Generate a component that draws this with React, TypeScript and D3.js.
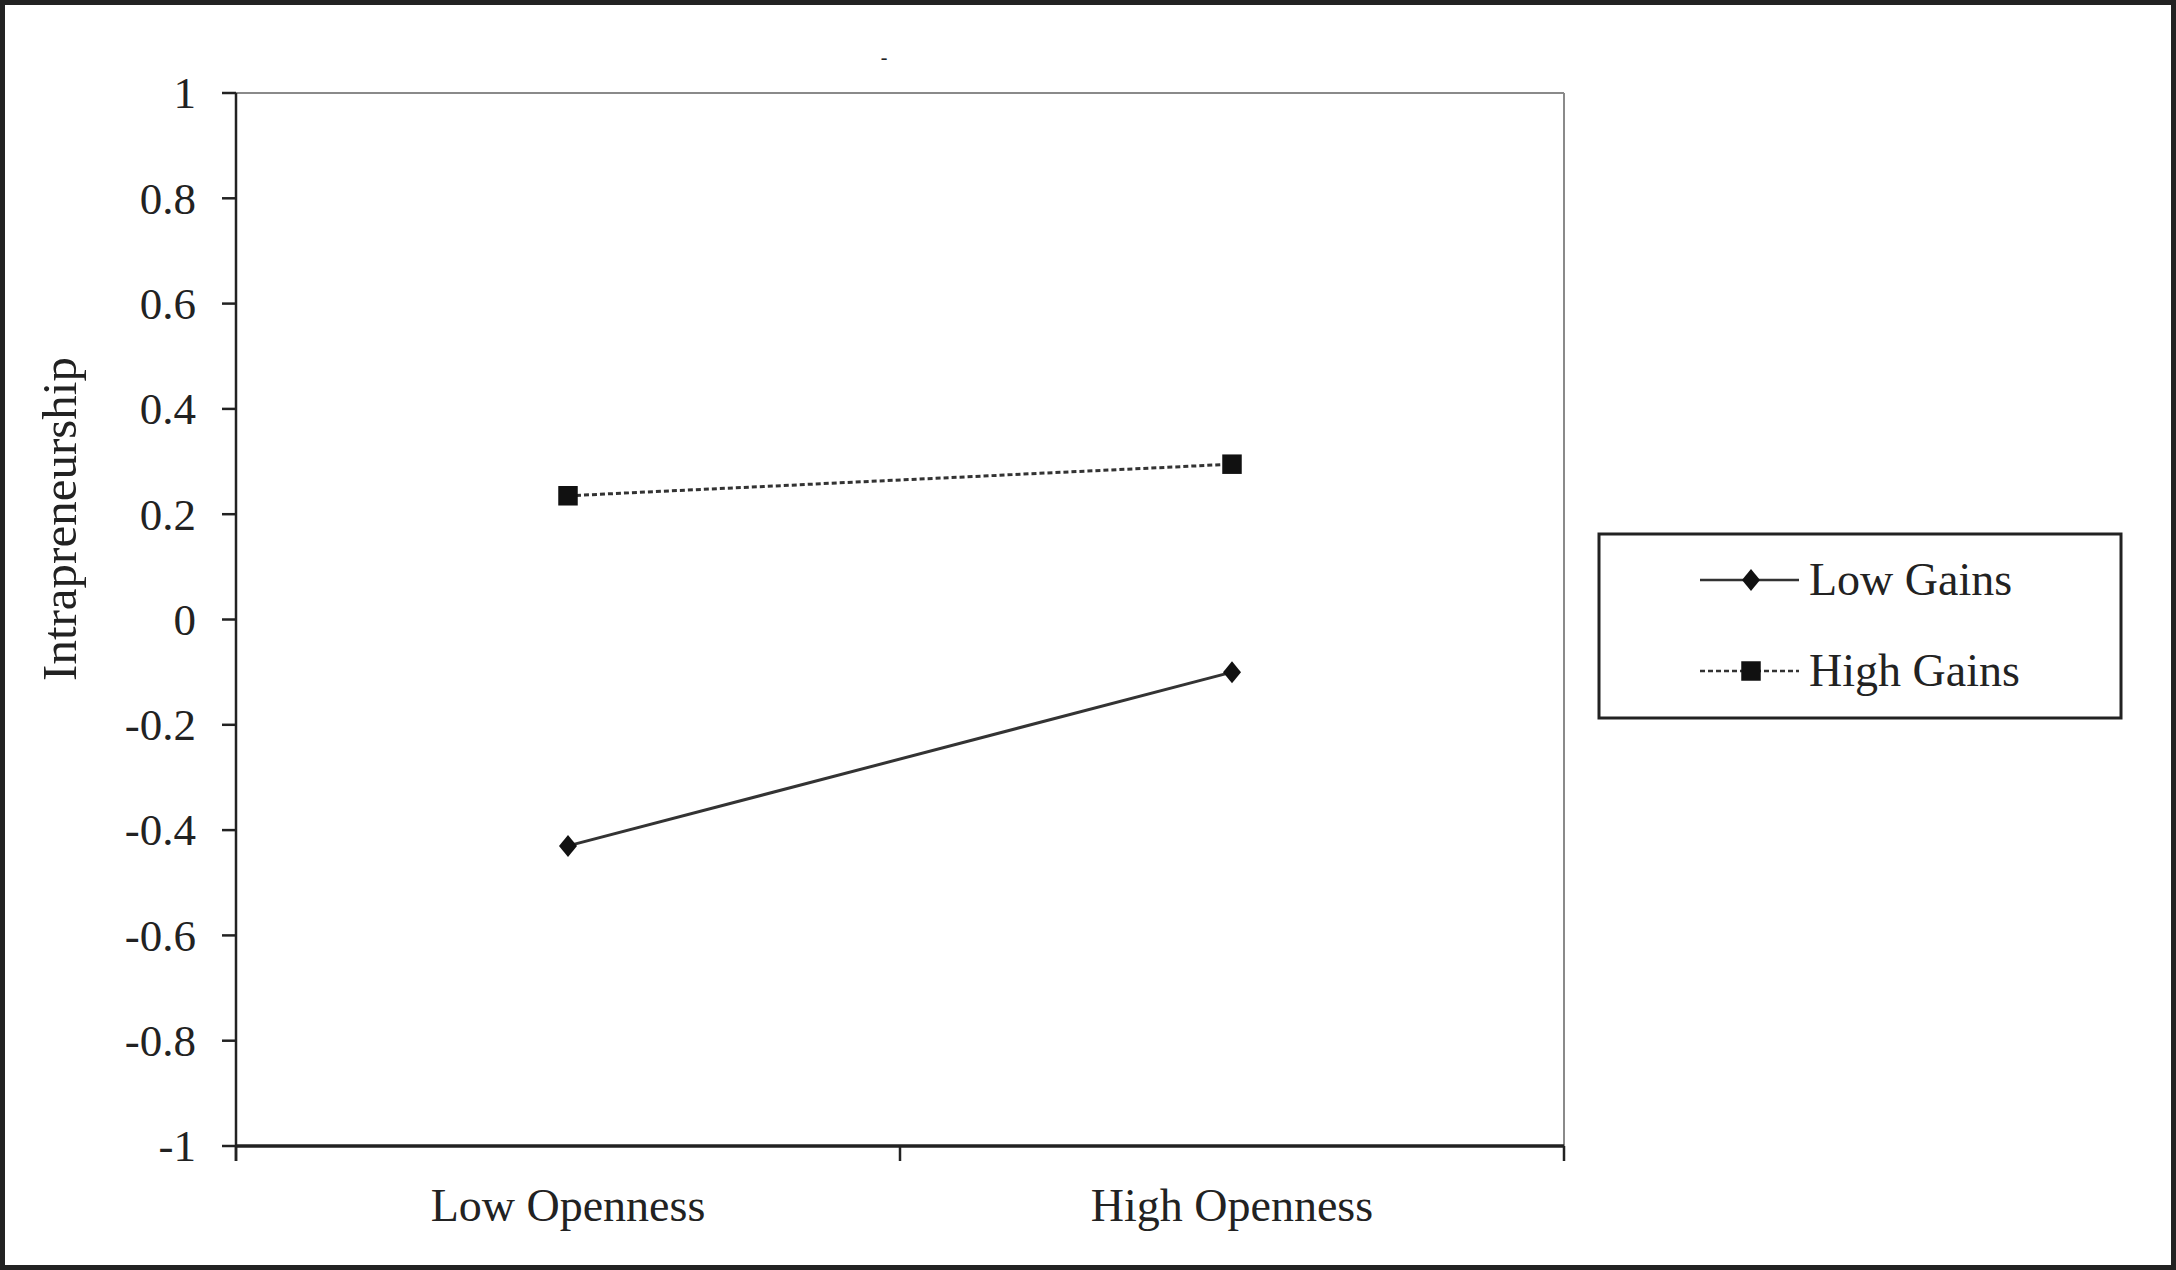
import { useRef, useEffect } from 'react';
import { select, scaleBand, scaleLinear, line, symbol, symbolSquare } from 'd3';

const categories = ['Low Openness', 'High Openness'];
const yTicks = [-1, -0.8, -0.6, -0.4, -0.2, 0, 0.2, 0.4, 0.6, 0.8, 1];
const lowGains = [-0.43, -0.1];
const highGains = [0.235, 0.295];

const seriesList = [
  { name: 'Low Gains', values: lowGains, dash: null as string | null, marker: 'diamond' },
  { name: 'High Gains', values: highGains, dash: '5 3', marker: 'square' },
];

const WIDTH = 2176;
const HEIGHT = 1270;
const margin = { top: 93, right: 612, bottom: 124, left: 236 };
const FONT = '"Liberation Serif", "Times New Roman", serif';
const INK = '#222';

export default function App() {
  const svgRef = useRef<SVGSVGElement>(null);

  useEffect(() => {
    if (!svgRef.current) return;
    const svg = select(svgRef.current);
    svg.selectAll('*').remove();

    const innerWidth = WIDTH - margin.left - margin.right;
    const innerHeight = HEIGHT - margin.top - margin.bottom;

    // outer frame
    svg.append('rect')
      .attr('x', 2.5).attr('y', 2.5)
      .attr('width', WIDTH - 5).attr('height', HEIGHT - 5)
      .attr('fill', '#fff').attr('stroke', INK).attr('stroke-width', 5);

    // stray title mark
    svg.append('text')
      .attr('x', 884).attr('y', 64)
      .attr('text-anchor', 'middle')
      .attr('font-family', FONT).attr('font-size', 20)
      .attr('fill', INK)
      .text('-');

    const g = svg.append('g').attr('transform', `translate(${margin.left},${margin.top})`);

    const x = scaleBand().domain(categories).range([0, innerWidth]).padding(0);
    const y = scaleLinear().domain([-1, 1]).range([innerHeight, 0]);

    // plot frame (top and right in gray)
    g.append('line')
      .attr('x1', 0).attr('x2', innerWidth).attr('y1', 0).attr('y2', 0)
      .attr('stroke', '#8a8a8a').attr('stroke-width', 2);
    g.append('line')
      .attr('x1', innerWidth).attr('x2', innerWidth).attr('y1', 0).attr('y2', innerHeight)
      .attr('stroke', '#8a8a8a').attr('stroke-width', 2);

    // y axis
    g.append('line')
      .attr('x1', 0).attr('x2', 0).attr('y1', 0).attr('y2', innerHeight + 15)
      .attr('stroke', INK).attr('stroke-width', 2.5);
    g.selectAll('.ytick')
      .data(yTicks)
      .enter()
      .append('line')
      .attr('x1', -14).attr('x2', 0)
      .attr('y1', (d) => y(d)).attr('y2', (d) => y(d))
      .attr('stroke', INK).attr('stroke-width', 2.5);
    g.selectAll('.ylabel')
      .data(yTicks)
      .enter()
      .append('text')
      .attr('x', -40)
      .attr('y', (d) => y(d))
      .attr('dy', '0.34em')
      .attr('text-anchor', 'end')
      .attr('font-family', FONT).attr('font-size', 45)
      .attr('fill', INK)
      .text((d) => String(Math.round(d * 10) / 10));

    // x axis
    g.append('line')
      .attr('x1', 0).attr('x2', innerWidth).attr('y1', innerHeight).attr('y2', innerHeight)
      .attr('stroke', INK).attr('stroke-width', 3.5);
    const bounds = [0, ...categories.map((c) => (x(c) || 0) + x.bandwidth())];
    g.selectAll('.xtick')
      .data(bounds)
      .enter()
      .append('line')
      .attr('x1', (d) => d).attr('x2', (d) => d)
      .attr('y1', innerHeight).attr('y2', innerHeight + 15)
      .attr('stroke', INK).attr('stroke-width', 2.5);
    g.selectAll('.xlabel')
      .data(categories)
      .enter()
      .append('text')
      .attr('x', (d) => (x(d) || 0) + x.bandwidth() / 2)
      .attr('y', innerHeight + 75)
      .attr('text-anchor', 'middle')
      .attr('font-family', FONT).attr('font-size', 46)
      .attr('fill', INK)
      .text((d) => d);

    // y title
    svg.append('text')
      .attr('transform', `translate(76,519) rotate(-90)`)
      .attr('text-anchor', 'middle')
      .attr('font-family', FONT).attr('font-size', 49)
      .attr('fill', INK)
      .text('Intrapreneurship');

    const cx = (c: string) => (x(c) || 0) + x.bandwidth() / 2;
    const diamondPath = 'M0,-11L9,0L0,11L-9,0Z';
    const squarePath = symbol().type(symbolSquare).size(380)() || '';

    const drawMarker = (sel: any, kind: string) => {
      sel.append('path')
        .attr('d', kind === 'diamond' ? diamondPath : squarePath)
        .attr('fill', '#111');
    };

    // series
    seriesList.forEach((s) => {
      const pts = s.values.map((v, i) => [cx(categories[i]), y(v)] as [number, number]);
      g.append('path')
        .attr('d', line()(pts) || '')
        .attr('fill', 'none')
        .attr('stroke', '#333')
        .attr('stroke-width', 3)
        .attr('stroke-dasharray', s.dash);
      pts.forEach((p) => {
        const m = g.append('g').attr('transform', `translate(${p[0]},${p[1]})`);
        drawMarker(m, s.marker);
      });
    });

    // legend
    const legend = svg.append('g').attr('transform', 'translate(1599,534)');
    legend.append('rect')
      .attr('x', 0).attr('y', 0).attr('width', 522).attr('height', 184)
      .attr('fill', '#fff').attr('stroke', INK).attr('stroke-width', 3);
    seriesList.forEach((s, i) => {
      const ly = 46 + i * 91;
      const item = legend.append('g').attr('transform', `translate(0,${ly})`);
      item.append('line')
        .attr('x1', 101).attr('x2', 200).attr('y1', 0).attr('y2', 0)
        .attr('stroke', '#333').attr('stroke-width', 2.5)
        .attr('stroke-dasharray', s.dash);
      const m = item.append('g').attr('transform', 'translate(152,0)');
      drawMarker(m, s.marker);
      item.append('text')
        .attr('x', 210).attr('y', 15)
        .attr('font-family', FONT).attr('font-size', 46)
        .attr('fill', INK)
        .text(s.name);
    });
  }, []);

  return (
    <div style={{ position: 'fixed', left: 0, top: 0, width: WIDTH, height: HEIGHT, background: '#fff' }}>
      <svg ref={svgRef} width={WIDTH} height={HEIGHT} style={{ display: 'block' }} />
    </div>
  );
}
